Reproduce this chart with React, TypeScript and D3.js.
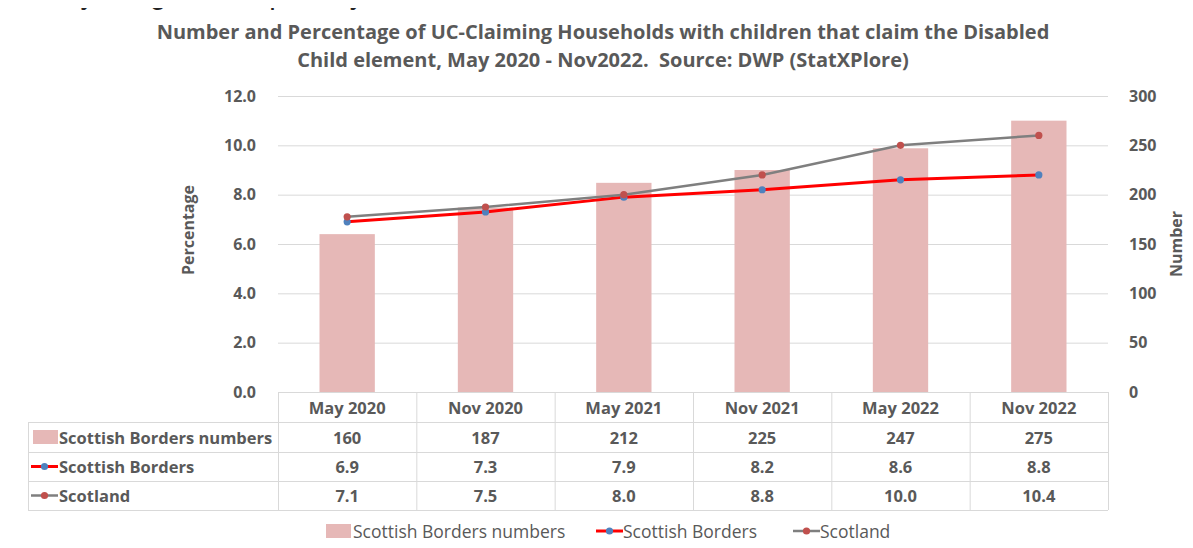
import React, { useEffect, useRef } from 'react';
import * as d3 from 'd3';

const categories = ['May 2020', 'Nov 2020', 'May 2021', 'Nov 2021', 'May 2022', 'Nov 2022'];
const bordersNumbers = [160, 187, 212, 225, 247, 275];
const bordersPct = [6.9, 7.3, 7.9, 8.2, 8.6, 8.8];
const scotlandPct = [7.1, 7.5, 8.0, 8.8, 10.0, 10.4];
const pctTicks = [0, 2, 4, 6, 8, 10, 12];
const numTicks = [0, 50, 100, 150, 200, 250, 300];
const titleLines = [
  'Number and Percentage of UC-Claiming Households with children that claim the Disabled',
  'Child element, May 2020 - Nov2022.  Source: DWP (StatXPlore)'
];

const W = 1193;
const H = 548;
const FONT = '"Open Sans", Lato, sans-serif';
const TXT = '#595959';
const GRID = '#D9D9D9';
const BAR = '#E6B8B7';
const RED = '#FF0000';
const GREY = '#7F7F7F';
const BLUE_DOT = '#4F81BD';
const RED_DOT = '#C0504D';

const App: React.FC = () => {
  const svgRef = useRef<SVGSVGElement>(null);

  useEffect(() => {
    const svg = d3.select(svgRef.current);
    svg.selectAll('*').remove();

    const left = 278;
    const right = 1108;
    const top = 96;
    const bottom = 392;

    const x = d3.scaleBand<string>().domain(categories).range([left, right]).paddingInner(0).paddingOuter(0);
    const yPct = d3.scaleLinear().domain([0, 12]).range([bottom, top]);
    const yNum = d3.scaleLinear().domain([0, 300]).range([bottom, top]);
    const cx = (c: string) => (x(c) as number) + x.bandwidth() / 2;

    // cut-off text from the page above (only its lower edge shows, as in the reference)
    svg.append('text')
      .attr('x', 0).attr('y', 4)
      .style('font-family', '"Liberation Sans", Arial, sans-serif')
      .style('font-size', '29px')
      .style('fill', '#222')
      .text('already a high in the poverty');

    // outer chart border
    svg.append('rect')
      .attr('x', 7.5).attr('y', 7.5)
      .attr('width', W).attr('height', H)
      .attr('fill', 'none')
      .attr('stroke', GRID);

    // title
    titleLines.forEach((t, i) => {
      svg.append('text')
        .attr('x', 603).attr('y', 39 + i * 28)
        .attr('text-anchor', 'middle')
        .style('font-family', FONT)
        .style('font-weight', 700)
        .style('font-size', '20px')
        .style('white-space', 'pre')
        .style('fill', TXT)
        .text(t);
    });

    // grid
    svg.append('g').selectAll('line')
      .data(pctTicks.slice(1))
      .enter().append('line')
      .attr('x1', left).attr('x2', right)
      .attr('y1', d => yPct(d) + 0.5).attr('y2', d => yPct(d) + 0.5)
      .attr('stroke', GRID).attr('stroke-width', 1);

    // left axis
    const la = svg.append('g')
      .attr('transform', `translate(${left - 19},0)`)
      .call(d3.axisLeft(yPct).tickValues(pctTicks).tickFormat(d3.format('.1f')).tickSize(0));
    la.select('.domain').remove();
    la.selectAll('text')
      .style('font-family', FONT).style('font-weight', 700).style('font-size', '16px').style('fill', TXT);

    // right axis
    const ra = svg.append('g')
      .attr('transform', `translate(${right + 18},0)`)
      .call(d3.axisRight(yNum).tickValues(numTicks).tickFormat(d3.format('d')).tickSize(0));
    ra.select('.domain').remove();
    ra.selectAll('text')
      .style('font-family', FONT).style('font-weight', 700).style('font-size', '16px').style('fill', TXT);

    // axis titles
    svg.append('text')
      .attr('transform', `translate(194,230) rotate(-90)`)
      .attr('text-anchor', 'middle')
      .style('font-family', FONT).style('font-weight', 700).style('font-size', '16px').style('fill', TXT)
      .text('Percentage');
    svg.append('text')
      .attr('transform', `translate(1182,244) rotate(-90)`)
      .attr('text-anchor', 'middle')
      .style('font-family', FONT).style('font-weight', 700).style('font-size', '16px').style('fill', TXT)
      .text('Number');

    // bars
    const bw = x.bandwidth() * 0.4;
    svg.append('g').selectAll('rect')
      .data(bordersNumbers)
      .enter().append('rect')
      .attr('x', (d, i) => cx(categories[i]) - bw / 2)
      .attr('y', d => yNum(d))
      .attr('width', bw)
      .attr('height', d => yNum(0) - yNum(d))
      .attr('fill', BAR);

    // lines
    const drawLine = (vals: number[], color: string, dot: string, sw: number) => {
      const line = d3.line<number>()
        .x((d, i) => cx(categories[i]))
        .y(d => yPct(d));
      svg.append('path')
        .datum(vals)
        .attr('fill', 'none')
        .attr('stroke', color)
        .attr('stroke-width', sw)
        .attr('d', line);
      svg.append('g').selectAll('circle')
        .data(vals)
        .enter().append('circle')
        .attr('cx', (d, i) => cx(categories[i]))
        .attr('cy', d => yPct(d))
        .attr('r', 3.6)
        .attr('fill', dot);
    };
    drawLine(bordersPct, RED, BLUE_DOT, 3);
    drawLine(scotlandPct, GREY, RED_DOT, 2.5);

    // data table
    const tableLeft = 28;
    const rowTops = [392, 422, 452, 481, 510];
    const tg = svg.append('g');
    rowTops.forEach((yy, i) => {
      tg.append('line')
        .attr('x1', i === 0 ? left : tableLeft).attr('x2', right)
        .attr('y1', yy + 0.5).attr('y2', yy + 0.5)
        .attr('stroke', GRID);
    });
    tg.append('line').attr('x1', tableLeft + 0.5).attr('x2', tableLeft + 0.5)
      .attr('y1', rowTops[1]).attr('y2', rowTops[4]).attr('stroke', GRID);
    [...categories.map(c => x(c) as number), right].forEach(xx => {
      tg.append('line').attr('x1', xx + 0.5).attr('x2', xx + 0.5)
        .attr('y1', rowTops[0]).attr('y2', rowTops[4]).attr('stroke', GRID);
    });

    const cellText = (xx: number, yy: number, t: string, anchor = 'middle') =>
      tg.append('text')
        .attr('x', xx).attr('y', yy)
        .attr('text-anchor', anchor)
        .attr('dominant-baseline', 'central')
        .style('font-family', FONT).style('font-weight', 700).style('font-size', '16.5px').style('fill', TXT)
        .text(t);

    categories.forEach(c => cellText(cx(c), 407, c));
    const rows = [
      { name: 'Scottish Borders numbers', vals: bordersNumbers.map(v => d3.format('d')(v)) },
      { name: 'Scottish Borders', vals: bordersPct.map(v => d3.format('.1f')(v)) },
      { name: 'Scotland', vals: scotlandPct.map(v => d3.format('.1f')(v)) }
    ];
    const rowC = (i: number) => (rowTops[i + 1] + rowTops[i + 2]) / 2;
    rows.forEach((r, ri) => {
      const yc = rowC(ri);
      cellText(59, yc, r.name, 'start');
      r.vals.forEach((v, i) => cellText(cx(categories[i]), yc, v));
    });

    // legend keys (table + bottom legend)
    const barKey = (g: d3.Selection<SVGGElement, unknown, null, undefined>, xx: number, yc: number) => {
      g.append('rect').attr('x', xx).attr('y', yc - 7).attr('width', 25).attr('height', 14).attr('fill', BAR);
    };
    const lineKey = (g: d3.Selection<SVGGElement, unknown, null, undefined>, xx: number, yc: number, color: string, dot: string, sw: number) => {
      g.append('line').attr('x1', xx).attr('x2', xx + 27).attr('y1', yc).attr('y2', yc)
        .attr('stroke', color).attr('stroke-width', sw);
      g.append('circle').attr('cx', xx + 13.5).attr('cy', yc).attr('r', 3.6).attr('fill', dot);
    };
    barKey(tg, 33, rowC(0));
    lineKey(tg, 31, rowC(1), RED, BLUE_DOT, 3);
    lineKey(tg, 31, rowC(2), GREY, RED_DOT, 2.5);

    const lg = svg.append('g');
    const ly = 531;
    const legText = (xx: number, t: string) =>
      lg.append('text')
        .attr('x', xx).attr('y', ly)
        .attr('dominant-baseline', 'central')
        .style('font-family', FONT).style('font-size', '17.5px').style('fill', TXT)
        .text(t);
    barKey(lg, 326, ly);
    legText(353, 'Scottish Borders numbers');
    lineKey(lg, 596, ly, RED, BLUE_DOT, 3);
    legText(623, 'Scottish Borders');
    lineKey(lg, 793, ly, GREY, RED_DOT, 2.5);
    legText(820, 'Scotland');
  }, []);

  return (
    <div style={{ margin: -8 }}>
      <svg ref={svgRef} width={W} height={H} style={{ display: 'block', background: 'white' }}></svg>
    </div>
  );
};

export default App;
